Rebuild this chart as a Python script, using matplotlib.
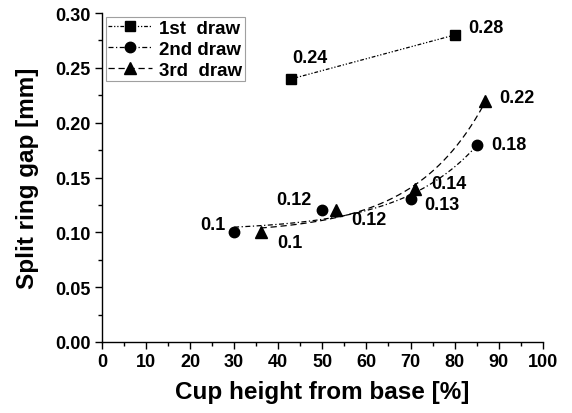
import numpy as np
import matplotlib
matplotlib.use('Agg')
import matplotlib.pyplot as plt
from matplotlib.ticker import MultipleLocator

# data
x1 = [43, 80]
y1 = [0.24, 0.28]
x2 = [30, 50, 70, 85]
y2 = [0.10, 0.12, 0.13, 0.18]
x3 = [36, 53, 71, 87]
y3 = [0.10, 0.12, 0.14, 0.22]
names = ['1st  draw', '2nd draw', '3rd  draw']

# label offsets in pixels (dx, dy, ha, va) for each point
off2 = [(-9, 8, 'right', 'center'), (-11, 11, 'right', 'center'),
        (14, -5, 'left', 'center'), (15, 0, 'left', 'center')]
off3 = [(17, -10, 'left', 'center'), (16, -9, 'left', 'center'),
        (16, 5, 'left', 'center'), (14, 3, 'left', 'center')]
off1 = [(1, 21, 'left', 'center'), (14, 8, 'left', 'center')]


def exp_fit(x, y):
    # y = y0 + A*exp(x/t), grid search over t
    x = np.asarray(x, float)
    y = np.asarray(y, float)
    best = None
    for t in np.linspace(5, 200, 800):
        M = np.column_stack([np.ones_like(x), np.exp(x / t)])
        c, *_ = np.linalg.lstsq(M, y, rcond=None)
        r = np.sum((M @ c - y) ** 2)
        if best is None or r < best[0]:
            best = (r, t, c)
    _, t, c = best
    xs = np.linspace(x.min(), x.max(), 200)
    return xs, c[0] + c[1] * np.exp(xs / t)


plt.rcParams['font.family'] = ['Liberation Sans', 'DejaVu Sans']
plt.rcParams['font.weight'] = 'bold'

fig = plt.figure(figsize=(5.72, 4.14), dpi=100)
ax = fig.add_axes([0.178, 0.1715, 0.771, 0.7945])

ax.plot(x1, y1, color='black', lw=0.9, ls=(0, (3, 1.5, 1, 1.5, 1, 1.5)),
        marker='s', ms=6.5, label=names[0])
fx, fy = exp_fit(x2, y2)
ax.plot(fx, fy, color='black', lw=0.9, ls=(0, (4, 2, 1, 2)))
ax.plot(x2, y2, 'o', color='black', ms=7.5)
fx, fy = exp_fit(x3, y3)
ax.plot(fx, fy, color='black', lw=0.9, ls=(0, (5, 3)))
ax.plot(x3, y3, '^', color='black', ms=8)

# legend handles
ax.plot([], [], color='black', lw=0.9, ls=(0, (4, 2, 1, 2)), marker='o',
        ms=7.5, label=names[1])
ax.plot([], [], color='black', lw=0.9, ls=(0, (5, 3)), marker='^',
        ms=8, label=names[2])

for xs, ys, offs in [(x1, y1, off1), (x2, y2, off2), (x3, y3, off3)]:
    for xv, yv, (dx, dy, ha, va) in zip(xs, ys, offs):
        ax.annotate(f'{yv:g}', (xv, yv), xytext=(dx, dy),
                    textcoords='offset pixels', ha=ha, va=va,
                    fontsize=13, fontweight='bold')

ax.set_xlim(0, 100)
ax.set_ylim(0, 0.30)
ax.xaxis.set_major_locator(MultipleLocator(10))
ax.xaxis.set_minor_locator(MultipleLocator(5))
ax.yaxis.set_major_locator(MultipleLocator(0.05))
ax.yaxis.set_minor_locator(MultipleLocator(0.025))
ax.yaxis.set_major_formatter(matplotlib.ticker.FormatStrFormatter('%.2f'))
ax.spines['top'].set_visible(False)
ax.spines['right'].set_visible(False)
for s in ['left', 'bottom']:
    ax.spines[s].set_linewidth(1.0)
ax.tick_params(which='major', direction='out', length=5, width=1,
               labelsize=13, pad=3)
ax.tick_params(which='minor', direction='out', length=3, width=1)
for lab in ax.get_xticklabels() + ax.get_yticklabels():
    lab.set_fontweight('bold')

ax.set_xlabel('Cup height from base [%]', fontsize=17.5, fontweight='bold',
              labelpad=7)
ax.set_ylabel('Split ring gap [mm]', fontsize=17.5, fontweight='bold',
              labelpad=12)

leg = ax.legend(loc='upper left', bbox_to_anchor=(0.0, 1.0), fontsize=13.5,
                frameon=True, fancybox=False, handlelength=2.3,
                handletextpad=0.4, borderpad=0.15, labelspacing=0.2,
                borderaxespad=0.2)
leg.get_frame().set_edgecolor('#888888')
leg.get_frame().set_linewidth(0.8)
for t in leg.get_texts():
    t.set_fontweight('bold')

fig.savefig('out.png', dpi=100)
